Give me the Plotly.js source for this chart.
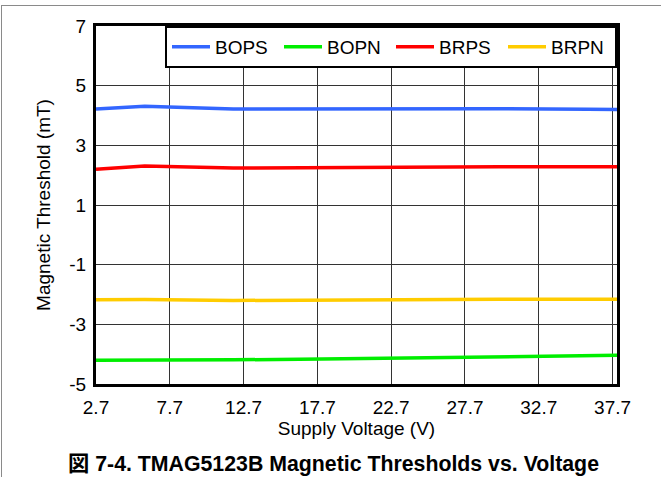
<!DOCTYPE html>
<html>
<head>
<meta charset="utf-8">
<script src="https://cdn.plot.ly/plotly-3.0.1.min.js"></script>
<style>
  html, body { margin: 0; padding: 0; background: #fff; }
  #wrap { position: relative; width: 661px; height: 477px; }
  #chart { width: 661px; height: 477px; }
  #frame { position: absolute; left: 1px; top: 5px; width: 660px; height: 472px;
           border-top: 1px solid #8a8a8a; border-left: 1px solid #8a8a8a; pointer-events: none; box-sizing: border-box; }
</style>
</head>
<body>
<div id="wrap">
  <div id="chart"></div>
  <div id="frame"></div>
</div>
<script>
// Supply voltage (V)
const voltage = [2.7, 6, 12, 18, 24, 30, 36, 38];
// Magnetic thresholds (mT)
const bops = [4.22, 4.31, 4.22, 4.23, 4.24, 4.23, 4.21, 4.20];
const bopn = [-4.20, -4.20, -4.19, -4.16, -4.13, -4.10, -4.06, -4.04];
const brps = [2.20, 2.31, 2.24, 2.26, 2.28, 2.28, 2.28, 2.28];
const brpn = [-2.18, -2.17, -2.20, -2.18, -2.16, -2.16, -2.16, -2.16];

const seriesNames = ['BOPS', 'BOPN', 'BRPS', 'BRPN'];
const seriesValues = [bops, bopn, brps, brpn];
const seriesColors = ['#3366FF', '#00EE00', '#FF0000', '#FFCC00'];

const xTicks = [2.7, 7.7, 12.7, 17.7, 22.7, 27.7, 32.7, 37.7];
const yTicks = [-5, -3, -1, 1, 3, 5, 7];

const FONT = 'Liberation Sans, Arial, Helvetica, sans-serif';
const FS = 19;

const traces = seriesNames.map((n, i) => ({
  type: 'scatter', mode: 'lines', name: n,
  x: voltage, y: seriesValues[i],
  line: { color: seriesColors[i], width: 3.5 }
}));

const layout = {
  width: 661, height: 477,
  margin: { l: 96, r: 44, t: 26, b: 93 },
  paper_bgcolor: '#fff', plot_bgcolor: '#fff',
  font: { family: FONT, size: FS, color: '#000' },
  showlegend: true,
  legend: {
    orientation: 'h', x: 1, xanchor: 'right', y: 1, yanchor: 'top',
    bgcolor: '#fff', bordercolor: '#000', borderwidth: 2,
    font: { family: FONT, size: FS, color: '#000' },
    entrywidth: 59, entrywidthmode: 'pixels', itemwidth: 38
  },
  xaxis: {
    range: [2.7, 38], tickvals: xTicks, ticktext: xTicks.map(v => v.toFixed(1)),
    showgrid: true, gridcolor: '#333', gridwidth: 1, zeroline: false,
    showline: true, linecolor: '#000', linewidth: 3, mirror: true, ticks: '',
    tickfont: { family: FONT, size: FS }, ticklabelstandoff: 4,
    title: { text: 'Supply Voltage (V)', font: { family: FONT, size: FS }, standoff: 2 }
  },
  yaxis: {
    range: [-5, 7], tickvals: yTicks, ticktext: yTicks.map(String),
    showgrid: true, gridcolor: '#333', gridwidth: 1, zeroline: false,
    showline: true, linecolor: '#000', linewidth: 3, mirror: true, ticks: '',
    tickfont: { family: FONT, size: FS }, ticklabelstandoff: 3,
    title: { text: 'Magnetic Threshold (mT)', font: { family: FONT, size: FS }, standoff: 14 }
  },
  annotations: [{
    xref: 'paper', yref: 'paper', x: 0.455, y: -0.223, xanchor: 'center', yanchor: 'middle',
    showarrow: false,
    text: '<b>図 7-4. TMAG5123B Magnetic Thresholds vs. Voltage</b>',
    font: { family: 'Liberation Sans, Arial, Noto Sans CJK JP, sans-serif', size: 21.3, color: '#000' }
  }]
};

Plotly.newPlot('chart', traces, layout, { displayModeBar: false, staticPlot: true });
</script>
</body>
</html>
